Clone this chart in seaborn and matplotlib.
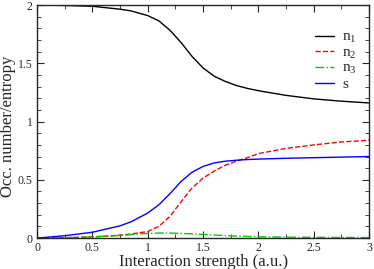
import numpy as np
import pandas as pd
import matplotlib
matplotlib.use('Agg')
import matplotlib.pyplot as plt
import seaborn as sns
from matplotlib.ticker import MultipleLocator

# values
strength = [0.0, 0.25, 0.5, 0.75, 0.85, 1.0, 1.1, 1.2, 1.3, 1.4, 1.5, 1.6, 1.7, 1.8, 1.9, 2.0, 2.25, 2.5, 2.75, 3.0]
n1 = [2.0, 1.997, 1.99, 1.965, 1.95, 1.91, 1.865, 1.785, 1.68, 1.56, 1.46, 1.39, 1.345, 1.31, 1.285, 1.265, 1.225, 1.195, 1.175, 1.16]
n2 = [0.0, 0.003, 0.01, 0.025, 0.035, 0.056, 0.10, 0.185, 0.31, 0.43, 0.515, 0.575, 0.625, 0.66, 0.69, 0.725, 0.77, 0.80, 0.825, 0.84]
n3 = [0.0, 0.003, 0.01, 0.022, 0.03, 0.04, 0.043, 0.043, 0.04, 0.036, 0.031, 0.026, 0.021, 0.017, 0.014, 0.011, 0.008, 0.006, 0.005, 0.004]
s = [0.0, 0.02, 0.05, 0.105, 0.14, 0.215, 0.285, 0.38, 0.485, 0.565, 0.615, 0.645, 0.66, 0.668, 0.674, 0.678, 0.685, 0.69, 0.695, 0.70]

labels = ['n$_1$', 'n$_2$', 'n$_3$', 's']
colors = ['black', 'red', '#00cc00', 'blue']
styles = ['-', '--', '-.', '-']

sns.set_style('ticks')
plt.rcParams['font.family'] = ['Liberation Serif', 'DejaVu Serif']
plt.rcParams['mathtext.fontset'] = 'custom'
plt.rcParams['mathtext.rm'] = 'Liberation Serif'
plt.rcParams['mathtext.it'] = 'Liberation Serif'

fig = plt.figure(figsize=(3.74, 2.69), dpi=100)
ax = fig.add_axes([0.099, 0.115, 0.888, 0.866])

for vals, lab, col, ls in zip([n1, n2, n3, s], labels, colors, styles):
    sns.lineplot(x=strength, y=vals, ax=ax, color=col, linestyle=ls, linewidth=1.0, label=lab)

ax.set_xlim(0, 3)
ax.set_ylim(0, 2)
ax.xaxis.set_major_locator(MultipleLocator(0.5))
ax.xaxis.set_minor_locator(MultipleLocator(0.25))
ax.yaxis.set_major_locator(MultipleLocator(0.5))
ax.yaxis.set_minor_locator(MultipleLocator(0.1))
ax.xaxis.set_major_formatter(plt.FuncFormatter(lambda v, p: '%g' % v))
ax.yaxis.set_major_formatter(plt.FuncFormatter(lambda v, p: '%g' % v))
ax.tick_params(which='both', direction='in', top=True, right=True, labelsize=8.5, pad=3)
ax.tick_params(which='major', length=5)
ax.tick_params(which='minor', length=3)
for sp in ax.spines.values():
    sp.set_linewidth(1.0)

ax.set_xlabel('Interaction strength (a.u.)', fontsize=12, labelpad=0)
ax.set_ylabel('Occ. number/entropy', fontsize=12)
ax.yaxis.set_label_coords(-0.062, 0.48)

ax.legend(loc='upper right', bbox_to_anchor=(0.99, 0.93), frameon=False, fontsize=11,
          handlelength=1.3, handletextpad=0.5, labelspacing=0.05, borderaxespad=0.2)

fig.savefig('out.png', dpi=100)
